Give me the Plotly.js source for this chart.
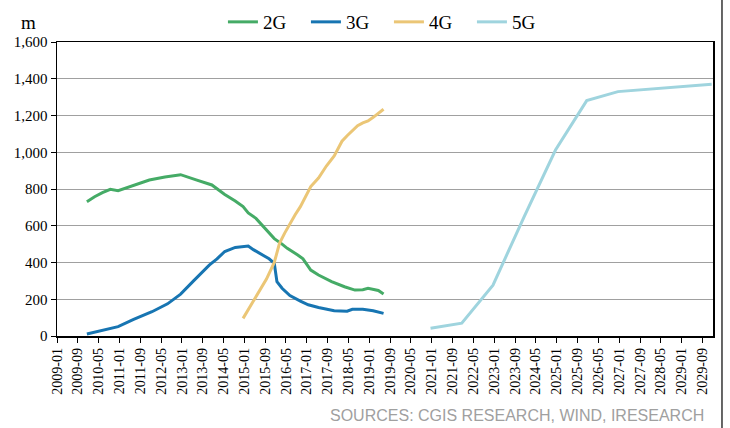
<!DOCTYPE html>
<html>
<head>
<meta charset="utf-8">
<script src="https://cdn.plot.ly/plotly-3.0.1.min.js"></script>
<style>html,body{margin:0;padding:0;background:#fff;}#chart{width:730px;height:428px;}</style>
</head>
<body>
<div id="chart"></div>
<script>
// Tick labels on the month axis
const tickLabels = ["2009-01","2009-09","2010-05","2011-01","2011-09","2012-05","2013-01","2013-09",
  "2014-05","2015-01","2015-09","2016-05","2017-01","2017-09","2018-05","2019-01","2019-09",
  "2020-05","2021-01","2021-09","2022-05","2023-01","2023-09","2024-05","2025-01","2025-09",
  "2026-05","2027-01","2027-09","2028-05","2029-01","2029-09"];

// 2G
const months2G = ["2009-12","2010-03","2010-06","2010-09","2010-12","2011-06","2011-12","2012-06","2012-12",
  "2013-06","2013-12","2014-05","2014-09","2014-12","2015-02","2015-05","2015-09","2015-12","2016-03",
  "2016-05","2016-09","2016-11","2017-02","2017-05","2017-10","2018-03","2018-07","2018-10","2018-12",
  "2019-02","2019-04","2019-06"];
const values2G = [731,758,780,798,791,820,849,865,878,
  850,822,770,735,704,670,640,577,530,500,
  477,441,420,359,332,296,268,250,252,260,
  255,248,229];

// 3G
const months3G = ["2009-12","2010-06","2010-12","2011-06","2012-01","2012-07","2012-12","2013-05","2013-11",
  "2014-02","2014-05","2014-09","2015-02","2015-04","2015-07","2015-10","2015-12","2016-01","2016-03",
  "2016-06","2016-10","2017-01","2017-05","2017-11","2018-04","2018-06","2018-10","2019-02","2019-06"];
const values3G = [11,30,51,90,132,175,228,300,386,
  420,460,482,490,470,445,420,396,296,260,
  220,190,170,155,138,135,145,145,137,123];

// 4G
const months4G = ["2014-12","2015-03","2015-06","2015-09","2015-12","2016-02","2016-04","2016-06","2016-08",
  "2016-10","2016-12","2017-02","2017-05","2017-08","2017-11","2018-02","2018-04","2018-06","2018-08",
  "2018-10","2018-12","2019-02","2019-04","2019-06"];
const values4G = [96,165,232,310,400,504,560,613,660,
  704,760,813,860,925,980,1060,1090,1115,1145,
  1160,1170,1190,1210,1234];

// 5G
const months5G = ["2020-12","2021-12","2022-12","2023-12","2024-12","2025-12","2026-12","2027-12","2028-12","2029-12"];
const values5G = [42,70,277,650,1012,1281,1330,1343,1357,1370];

const serif = "Liberation Serif";
const colors = {g2:"#45ab66", g3:"#1775b2", g4:"#ebc676", g5:"#9fd4de"};

function series(name, x, y, color) {
  return {type:"scatter", mode:"lines", name:name, x:x, y:y,
    xperiod:"M1", xperiodalignment:"middle",
    line:{color:color, width:3}};
}

const data = [
  series("2G", months2G, values2G, colors.g2),
  series("3G", months3G, values3G, colors.g3),
  series("4G", months4G, values4G, colors.g4),
  series("5G", months5G, values5G, colors.g5)
];

const layout = {
  width:730, height:428,
  margin:{l:57, r:17, t:42, b:92, autoexpand:false},
  paper_bgcolor:"#fff", plot_bgcolor:"#fff",
  font:{family:serif, color:"#000"},
  showlegend:true,
  legend:{orientation:"h", x:0.506, xanchor:"center", y:1.068, yanchor:"middle",
    entrywidth:38, entrywidthmode:"pixels",
    font:{family:serif, size:19, color:"#000"}, bgcolor:"rgba(0,0,0,0)"},
  xaxis:{type:"date", range:["2009-01-01","2030-01-01"], automargin:false,
    tickmode:"array", tickvals:tickLabels, ticktext:tickLabels,
    tickangle:-90, tickfont:{family:serif, size:14, color:"#000"},
    ticks:"outside", ticklen:5, tickcolor:"#000",
    showgrid:false, showline:true, linecolor:"#000", linewidth:1.5, mirror:true, zeroline:false},
  yaxis:{range:[0,1600], automargin:false, tickmode:"array", tickvals:[0,200,400,600,800,1000,1200,1400,1600],
    tickformat:",", tickfont:{family:serif, size:15, color:"#000"},
    ticks:"outside", ticklen:5, tickcolor:"#000",
    showgrid:true, gridcolor:"#a0a0a0", gridwidth:1,
    showline:true, linecolor:"#000", linewidth:1.5, mirror:true, zeroline:false},
  annotations:[
    {text:"m", xref:"paper", yref:"paper", x:-0.044, y:1.068, xanchor:"center", yanchor:"middle",
     showarrow:false, font:{family:serif, size:19, color:"#000"}},
    {text:"SOURCES: CGIS RESEARCH, WIND, IRESEARCH", xref:"paper", yref:"paper", x:0.989, y:-0.269,
     xanchor:"right", yanchor:"middle", showarrow:false,
     font:{family:"Liberation Sans", size:16, color:"#a0a0a0"}}
  ],
  shapes:[
    {type:"line", xref:"paper", yref:"paper", x0:1.0137, x1:1.0137, y0:-0.5, y1:1.5,
     line:{color:"#000", width:1.2}}
  ]
};

Plotly.newPlot("chart", data, layout, {displayModeBar:false, staticPlot:true});
</script>
</body>
</html>
